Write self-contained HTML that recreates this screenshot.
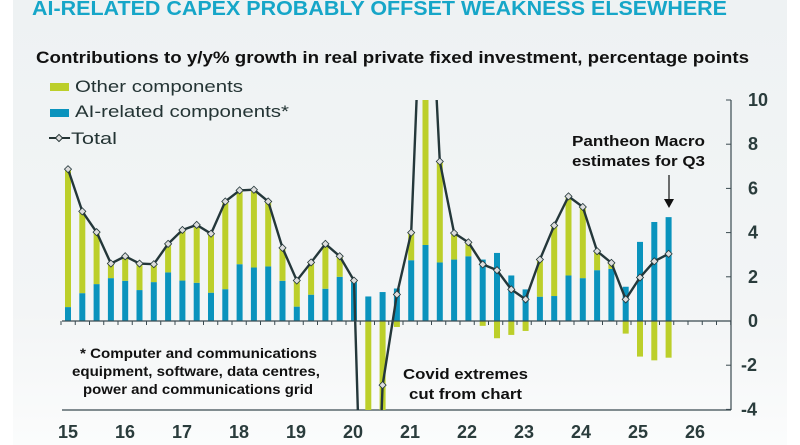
<!DOCTYPE html>
<html><head><meta charset="utf-8"><style>
html,body{margin:0;padding:0;background:#fff;overflow:hidden;width:800px;height:445px;}
svg{display:block;font-family:"Liberation Sans",sans-serif;}
</style></head><body>
<svg id="s" width="800" height="445" viewBox="0 0 800 445">
<defs>
<linearGradient id="bg" x1="0" y1="0" x2="0" y2="1">
<stop offset="0" stop-color="#eef2f3"/><stop offset="0.7" stop-color="#f3f5f6"/><stop offset="1" stop-color="#fbfcfc"/>
</linearGradient>
<clipPath id="cp"><rect x="55" y="100" width="680" height="310"/></clipPath>
</defs>
<rect x="13" y="0" width="774" height="445" fill="url(#bg)"/>
<text x="32" y="15" font-size="20" font-weight="bold" fill="#16a6c8" textLength="695" lengthAdjust="spacingAndGlyphs">AI-RELATED CAPEX PROBABLY OFFSET WEAKNESS ELSEWHERE</text>
<text x="36" y="63" font-size="17" font-weight="bold" fill="#111" textLength="713" lengthAdjust="spacingAndGlyphs">Contributions to y/y% growth in real private fixed investment, percentage points</text>
<rect x="50" y="83" width="19" height="8" fill="#bccf2a"/>
<text x="75" y="92" font-size="17" fill="#243434" textLength="168" lengthAdjust="spacingAndGlyphs">Other components</text>
<rect x="50" y="109" width="19" height="8" fill="#0a93bd"/>
<text x="75" y="117" font-size="17" fill="#243434" textLength="214" lengthAdjust="spacingAndGlyphs">AI-related components*</text>
<line x1="49" y1="138" x2="70" y2="138" stroke="#243434" stroke-width="2"/>
<rect x="56.5" y="135.5" width="5" height="5" transform="rotate(45 59 138)" fill="#ddd" stroke="#243434"/>
<text x="71" y="144" font-size="17" fill="#243434" textLength="46" lengthAdjust="spacingAndGlyphs">Total</text>
<g id="plot"></g>
<g font-size="14" font-weight="bold" fill="#111">
<text x="80" y="358" textLength="237" lengthAdjust="spacingAndGlyphs">* Computer and communications</text>
<text x="72" y="376" textLength="248" lengthAdjust="spacingAndGlyphs">equipment, software, data centres,</text>
<text x="83" y="394" textLength="230" lengthAdjust="spacingAndGlyphs">power and communications grid</text>
</g>
<g font-size="15" font-weight="bold" fill="#111">
<text x="403" y="379" textLength="125" lengthAdjust="spacingAndGlyphs">Covid extremes</text>
<text x="409" y="399" textLength="113" lengthAdjust="spacingAndGlyphs">cut from chart</text>
<text x="572" y="146" textLength="133" lengthAdjust="spacingAndGlyphs">Pantheon Macro</text>
<text x="572" y="166" textLength="133" lengthAdjust="spacingAndGlyphs">estimates for Q3</text>
</g>
<line x1="669" y1="175" x2="669" y2="200" stroke="#111" stroke-width="1.2"/>
<polygon points="664,199 674,199 669,208" fill="#111"/>
</svg>
<script>
var AI=[.63,1.26,1.67,1.94,1.82,1.40,1.76,2.2,1.83,1.73,1.28,1.44,2.57,2.42,2.47,1.82,.65,1.19,1.46,2.0,1.76,1.11,1.31,1.47,2.75,3.44,2.65,2.78,2.93,2.78,3.08,2.06,1.43,1.1,1.13,2.06,1.94,2.3,2.36,1.55,3.58,4.48,4.7];
var T=[6.87,4.96,4.02,2.6,2.93,2.6,2.57,3.49,4.12,4.35,3.95,5.41,5.91,5.94,5.41,3.31,1.83,2.65,3.49,2.93,1.83,-20,-2.9,1.2,4.0,20,7.22,3.98,3.56,2.56,2.3,1.43,0.98,2.78,4.32,5.64,5.16,3.16,2.63,0.98,1.97,2.7,3.04];
function X(i){return 68+i*14.3;}
function Y(v){return 321-v*22.1;}
var h='';
h+='<line x1="62" y1="410" x2="731" y2="410" stroke="#3a4a50" stroke-width="1.2"/>';
h+='<g clip-path="url(#cp)">';
for(var i=0;i<AI.length;i++){
 var x=X(i)-3,a=AI[i],o=T[i]-a;
 h+='<rect x="'+x+'" y="'+Y(a)+'" width="6" height="'+(a*22.1)+'" fill="#0a93bd"/>';
 if(o>0) h+='<rect x="'+x+'" y="'+Y(a+o)+'" width="6" height="'+(o*22.1)+'" fill="#bccf2a"/>';
 else h+='<rect x="'+x+'" y="321" width="6" height="'+(-o*22.1)+'" fill="#bccf2a"/>';
}
var p='';for(i=0;i<T.length;i++)p+=(i?'L':'M')+X(i)+','+Y(T[i]);
h+='<path d="'+p+'" fill="none" stroke="#24373a" stroke-width="2.4" stroke-linejoin="round"/>';
for(i=0;i<T.length;i++){var y=Y(T[i]);if(y<100||y>410)continue;
 h+='<rect x="'+(X(i)-2.5)+'" y="'+(y-2.5)+'" width="5" height="5" transform="rotate(45 '+X(i)+' '+y+')" fill="#ddd" stroke="#24373a" stroke-width="0.8"/>';}
h+='</g>';
h+='<line x1="62" y1="321" x2="731" y2="321" stroke="#3a4a50" stroke-width="1.2"/>';
for(i=0;i<=47;i++){var tx=61+i*14.25;if(tx>731)break;h+='<line x1="'+tx+'" y1="321" x2="'+tx+'" y2="325" stroke="#3a4a50"/>';}
h+='<line x1="731" y1="100" x2="731" y2="410" stroke="#3a4a50" stroke-width="1.2"/>';
var yl=[10,8,6,4,2,0,-2,-4];
for(i=0;i<yl.length;i++){var yy=Y(yl[i]);h+='<line x1="726" y1="'+yy+'" x2="731" y2="'+yy+'" stroke="#3a4a50"/>';
 h+='<text x="'+(yl[i]<0?741:748)+'" y="'+(yy+6)+'" font-size="18" font-weight="bold" fill="#2a3c3c">'+yl[i]+'</text>';}
var yrs=['15','16','17','18','19','20','21','22','23','24','25','26'];
for(i=0;i<12;i++)h+='<text x="'+(68+i*57)+'" y="438" font-size="18" font-weight="bold" fill="#2a3c3c" text-anchor="middle">'+yrs[i]+'</text>';
document.getElementById('plot').innerHTML=h;
</script>
</body></html>
